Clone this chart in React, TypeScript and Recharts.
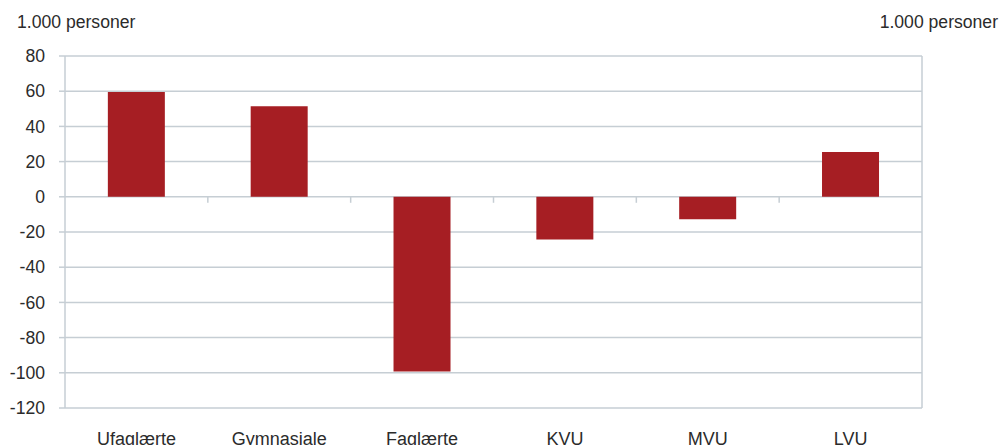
import React from 'react';
import {
  BarChart,
  Bar,
  XAxis,
  YAxis,
  CartesianGrid,
  ReferenceLine
} from 'recharts';

const categories = ['Ufaglærte', 'Gymnasiale', 'Faglærte', 'KVU', 'MVU', 'LVU'];
const values = [59.5, 51.5, -99.3, -24.2, -12.8, 25.4];
const yTicks = [-120, -100, -80, -60, -40, -20, 0, 20, 40, 60, 80];
const unitLabel = '1.000 personer';

const BAR_COLOR = '#a61e23';
const GRID_COLOR = '#c6ced4';
const TEXT_COLOR = '#2b2b2b';
const FONT = '"Liberation Sans", Arial, Helvetica, sans-serif';
const FONT_SIZE = 17.6;

const data = categories.map((name, i) => ({ name, value: values[i] }));

const CategoryTick = (props: any) => {
  const { x, y, payload } = props;
  return (
    <text
      x={x}
      y={y}
      dy="0.71em"
      textAnchor="middle"
      fill={TEXT_COLOR}
      fontSize={18}
      fontFamily={FONT}
    >
      {payload.value}
    </text>
  );
};

const tickStyle = { fill: TEXT_COLOR, fontSize: FONT_SIZE, fontFamily: FONT };

export default function App() {
  return (
    <div
      style={{
        position: 'fixed',
        left: 0,
        top: 0,
        width: 1000,
        height: 445,
        overflow: 'hidden',
        background: '#ffffff',
        fontFamily: FONT,
        color: TEXT_COLOR
      }}
    >
      <svg
        width={1000}
        height={445}
        style={{ position: 'absolute', left: 0, top: 0, zIndex: 2, pointerEvents: 'none' }}
      >
        <text x={17} y={28} fontSize={FONT_SIZE} fontFamily={FONT} fill={TEXT_COLOR}>
          {unitLabel}
        </text>
        <text x={998} y={28} textAnchor="end" fontSize={FONT_SIZE} fontFamily={FONT} fill={TEXT_COLOR}>
          {unitLabel}
        </text>
      </svg>
      <BarChart
        width={1000}
        height={445}
        data={data}
        margin={{ top: 56, right: 18, bottom: 7, left: 5 }}
        barCategoryGap="30%"
      >
        <CartesianGrid
          yAxisId="left"
          vertical={false}
          stroke={GRID_COLOR}
          strokeWidth={1.5}
        />
        <XAxis
          dataKey="name"
          height={30}
          axisLine={false}
          tickLine={false}
          tickSize={0}
          tickMargin={24}
          interval={0}
          tick={<CategoryTick />}
        />
        <YAxis
          yAxisId="left"
          width={60}
          domain={[-120, 80]}
          ticks={yTicks}
          interval={0}
          stroke={GRID_COLOR}
          axisLine={{ stroke: GRID_COLOR, strokeWidth: 1.5 }}
          tickLine={{ stroke: GRID_COLOR, strokeWidth: 1.5 }}
          tickSize={6}
          tickMargin={14}
          tick={tickStyle}
        />
        <YAxis
          yAxisId="right"
          orientation="right"
          width={60}
          domain={[-120, 80]}
          ticks={yTicks}
          interval={0}
          stroke={GRID_COLOR}
          axisLine={{ stroke: GRID_COLOR, strokeWidth: 1.5 }}
          tickLine={{ stroke: GRID_COLOR, strokeWidth: 1.5 }}
          tickSize={6}
          tickMargin={14}
          tick={{ ...tickStyle, textAnchor: 'start' }}
        />
        {categories.slice(1).map((c) => (
          <ReferenceLine
            key={c}
            yAxisId="left"
            position="start"
            segment={[{ x: c, y: 0 }, { x: c, y: -3.4 }]}
            stroke={GRID_COLOR}
            strokeWidth={1.5}
          />
        ))}
        <Bar
          yAxisId="left"
          dataKey="value"
          fill={BAR_COLOR}
          isAnimationActive={false}
        />
      </BarChart>
    </div>
  );
}
